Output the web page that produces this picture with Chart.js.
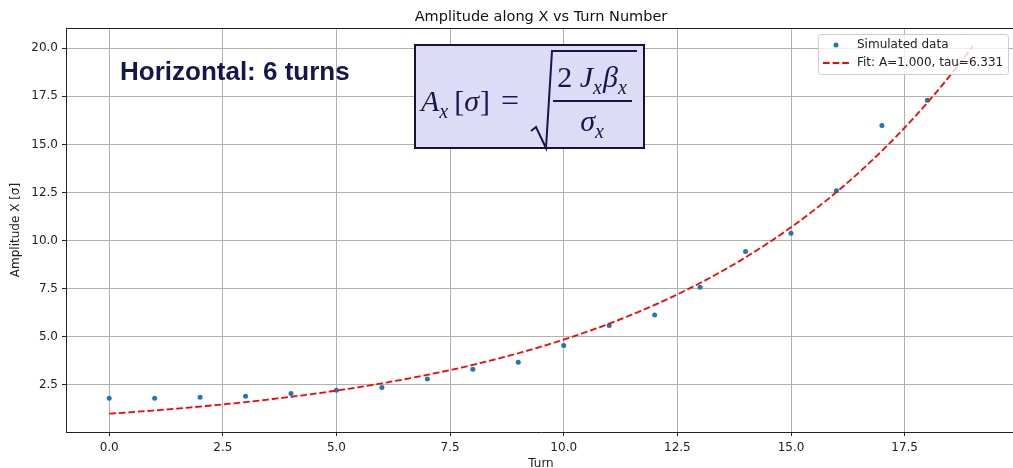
<!DOCTYPE html>
<html>
<head>
<meta charset="utf-8">
<title>Amplitude along X vs Turn Number</title>
<script src="https://cdn.jsdelivr.net/npm/chart.js@4.4.0/dist/chart.umd.min.js"></script>
<style>
  html, body { margin: 0; padding: 0; overflow: hidden; background: #fff; }
  #ampChart { display: block; width: 1020px; height: 474px; }
</style>
</head>
<body>
<canvas id="ampChart" width="1020" height="474"></canvas>
<script>
// simulated amplitude per turn
const turns = [0, 1, 2, 3, 4, 5, 6, 7, 8, 9, 10, 11, 12, 13, 14, 15, 16, 17, 18];
const amplitudeX = [1.80, 1.80, 1.86, 1.91, 2.05, 2.22, 2.36, 2.81, 3.31, 3.67,
                    4.54, 5.58, 6.13, 7.58, 9.43, 10.38, 12.59, 15.98, 17.30];

// exponential fit A * exp(turn / tau)
const fitA = 1.000;
const fitTau = 6.331;
const fitTurns = [];
for (let t = 0; t <= 19.0001; t += 0.1) fitTurns.push(+t.toFixed(1));

const xTicks = [0, 2.5, 5, 7.5, 10, 12.5, 15, 17.5];
const yTicks = [2.5, 5, 7.5, 10, 12.5, 15, 17.5, 20];
const seriesLabels = ['Simulated data', `Fit: A=${fitA.toFixed(3)}, tau=${fitTau.toFixed(3)}`];
const chartTitle = 'Amplitude along X vs Turn Number';
const headline = 'Horizontal: 6 turns';

const BLUE = '#1f77b4';
const RED = '#ff0000';
const NAVY = '#16164f';
const FIT_DASH = [6.7, 2.9];

const scatterPoints = turns.map((t, i) => ({ x: t, y: amplitudeX[i] }));
const fitPoints = fitTurns.map(t => ({ x: t, y: fitA * Math.exp(t / fitTau) }));

// draws a run of formula pieces (italic / subscript) starting at x
function drawRun(ctx, parts, x, y, measureOnly) {
  let cx = x;
  for (const p of parts) {
    const size = p.sub ? 20 : 30;
    ctx.font = `${p.it ? 'italic ' : ''}${size}px "Liberation Serif", "DejaVu Serif", serif`;
    if (!measureOnly) ctx.fillText(p.t, cx, p.sub ? y + 7 : y);
    cx += ctx.measureText(p.t).width + (p.gap || 0);
  }
  return cx - x;
}

const overlayPlugin = {
  id: 'overlay',
  afterDatasetsDraw(chart) {
    const { ctx, chartArea } = chart;
    ctx.save();

    // top frame
    ctx.strokeStyle = '#222';
    ctx.lineWidth = 1;
    ctx.beginPath();
    ctx.moveTo(chartArea.left, chartArea.top + 0.5);
    ctx.lineTo(chartArea.right, chartArea.top + 0.5);
    ctx.stroke();

    // title, centred over the plot area
    ctx.fillStyle = '#111';
    ctx.font = '14.5px "DejaVu Sans", sans-serif';
    ctx.textAlign = 'center';
    ctx.textBaseline = 'alphabetic';
    ctx.fillText(chartTitle, (chartArea.left + chartArea.right) / 2, 21);

    // headline
    ctx.textAlign = 'left';
    ctx.fillStyle = NAVY;
    ctx.font = 'bold 26px "Liberation Sans", Arial, sans-serif';
    ctx.fillText(headline, 120, 80);

    // formula box
    ctx.fillStyle = '#dcdcf6';
    ctx.fillRect(415, 45, 229, 103);
    ctx.strokeStyle = '#14143a';
    ctx.lineWidth = 2;
    ctx.strokeRect(415, 45, 229, 103);

    ctx.fillStyle = NAVY;
    drawRun(ctx, [
      { t: 'A', it: true }, { t: 'x', it: true, sub: true, gap: 6 },
      { t: '[' }, { t: 'σ', it: true, gap: 1 }, { t: ']' }
    ], 421, 111);
    ctx.font = '32px "Liberation Serif", "DejaVu Serif", serif';
    ctx.fillText('=', 501, 111);

    // radical sign
    ctx.strokeStyle = NAVY;
    ctx.lineWidth = 2;
    ctx.beginPath();
    ctx.moveTo(531, 131);
    ctx.lineTo(536, 127);
    ctx.lineTo(546, 148);
    ctx.lineTo(552, 51);
    ctx.lineTo(637, 51);
    ctx.stroke();

    const num = [{ t: '2 ' }, { t: 'J', it: true }, { t: 'x', it: true, sub: true, gap: 1 },
                 { t: 'β', it: true }, { t: 'x', it: true, sub: true }];
    const den = [{ t: 'σ', it: true }, { t: 'x', it: true, sub: true }];
    const cx = 592;
    const nw = drawRun(ctx, num, 0, 0, true);
    drawRun(ctx, num, cx - nw / 2, 87);
    ctx.fillRect(553, 100, 79, 2);
    const dw = drawRun(ctx, den, 0, 0, true);
    drawRun(ctx, den, cx - dw / 2, 131);

    // legend
    const lx = 818.5, ly = 34.5, lw = 190, lh = 40;
    ctx.beginPath();
    ctx.roundRect(lx, ly, lw, lh, 3);
    ctx.fillStyle = 'rgba(255,255,255,0.8)';
    ctx.fill();
    ctx.strokeStyle = '#cccccc';
    ctx.lineWidth = 1;
    ctx.stroke();

    ctx.fillStyle = BLUE;
    ctx.beginPath();
    ctx.arc(836, 45, 2.5, 0, Math.PI * 2);
    ctx.fill();

    ctx.strokeStyle = RED;
    ctx.lineWidth = 1.8;
    ctx.setLineDash(FIT_DASH);
    ctx.beginPath();
    ctx.moveTo(823, 63);
    ctx.lineTo(849, 63);
    ctx.stroke();
    ctx.setLineDash([]);

    ctx.fillStyle = '#222';
    ctx.font = '12px "DejaVu Sans", sans-serif';
    ctx.textBaseline = 'middle';
    ctx.fillText(seriesLabels[0], 857, 45);
    ctx.fillText(seriesLabels[1], 857, 63);

    ctx.restore();
  }
};

const tickFont = { family: '"DejaVu Sans", sans-serif', size: 12 };

new Chart(document.getElementById('ampChart'), {
  type: 'scatter',
  data: {
    datasets: [
      {
        label: seriesLabels[0],
        data: scatterPoints,
        backgroundColor: BLUE,
        borderWidth: 0,
        pointRadius: 2.5,
        order: 1
      },
      {
        label: seriesLabels[1],
        data: fitPoints,
        showLine: true,
        borderColor: RED,
        borderWidth: 1.8,
        borderDash: FIT_DASH,
        pointRadius: 0,
        fill: false,
        order: 0
      }
    ]
  },
  options: {
    responsive: false,
    animation: false,
    events: [],
    layout: { padding: { left: 0, right: 3, top: 28, bottom: 0 } },
    plugins: {
      legend: { display: false },
      tooltip: { enabled: false },
      title: { display: false }
    },
    scales: {
      x: {
        type: 'linear',
        min: -0.95,
        max: 19.95,
        afterBuildTicks: scale => { scale.ticks = xTicks.map(v => ({ value: v })); },
        afterFit: scale => {
          scale.height = 42;
          // keep the plot edges fixed, no extra room for end labels
          scale.paddingLeft = 0;
          scale.paddingRight = 0;
        },
        ticks: {
          callback: v => Number(v).toFixed(1),
          font: tickFont,
          color: '#222',
          padding: 5,
          autoSkip: false,
          maxRotation: 0
        },
        grid: { color: '#b0b0b0', lineWidth: 1, tickLength: 4, tickColor: '#222' },
        border: { color: '#222', width: 1 },
        title: {
          display: true,
          text: 'Turn',
          color: '#222',
          font: tickFont,
          padding: { top: 0, bottom: 3 }
        }
      },
      y: {
        type: 'linear',
        min: 0.05,
        max: 21.05,
        afterBuildTicks: scale => { scale.ticks = yTicks.map(v => ({ value: v })); },
        afterFit: scale => { scale.width = 66; },
        ticks: {
          callback: v => Number(v).toFixed(1),
          font: tickFont,
          color: '#222',
          padding: 4,
          autoSkip: false
        },
        grid: { color: '#b0b0b0', lineWidth: 1, tickLength: 4, tickColor: '#222' },
        border: { color: '#222', width: 1 },
        title: {
          display: true,
          text: 'Amplitude X [σ]',
          color: '#222',
          font: tickFont,
          padding: { top: 9, bottom: 0 }
        }
      }
    }
  },
  plugins: [plugins = overlayPlugin][0] ? [overlayPlugin] : []
});
</script>
</body>
</html>
